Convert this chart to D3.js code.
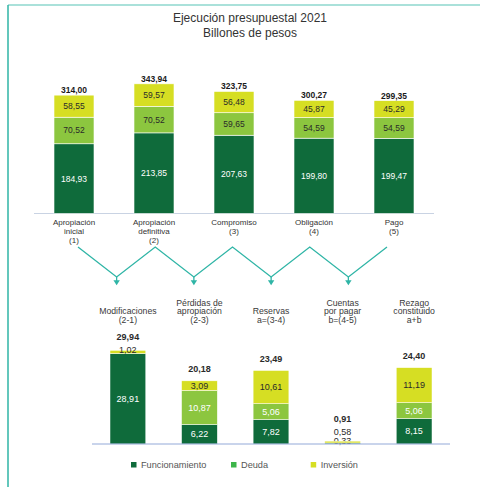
<!DOCTYPE html>
<html>
<head>
<meta charset="utf-8">
<script src="https://cdn.jsdelivr.net/npm/d3@7"></script>
<style>
  html, body { margin: 0; padding: 0; background: #fff; }
  svg { display: block; font-family: "Liberation Sans", Arial, sans-serif; }
</style>
</head>
<body>
<script>
// ejecución presupuestal 2021 (billones de pesos)
const etapas = [
	["Apropiación", "inicial", "(1)"],
	["Apropiación", "definitiva", "(2)"],
	["Compromiso", "(3)"],
	["Obligación", "(4)"],
	["Pago", "(5)"]
];
const funcionamiento = [184.93, 213.85, 207.63, 199.80, 199.47];
const deuda = [70.52, 70.52, 59.65, 54.59, 54.59];
const inversion = [58.55, 59.57, 56.48, 45.87, 45.29];
const totales = [314.00, 343.94, 323.75, 300.27, 299.35];

// diferencias entre etapas
const diferencias = [
	["Modificaciones", "(2-1)"],
	["Pérdidas de", "apropiación", "(2-3)"],
	["Reservas", "a=(3-4)"],
	["Cuentas", "por pagar", "b=(4-5)"],
	["Rezago", "constituido", "a+b"]
];
const difFuncionamiento = [28.91, 6.22, 7.82, 0.33, 8.15];
const difDeuda = [0, 10.87, 5.06, 0, 5.06];
const difInversion = [1.02, 3.09, 10.61, 0.58, 11.19];
const difTotales = [29.94, 20.18, 23.49, 0.91, 24.40];

const series = ["Funcionamiento", "Deuda", "Inversión"];

const COLORS = ["#0f6b3b", "#8cc63f", "#d6de23"];
const LEGEND_COLORS = ["#0f6b3b", "#3db54a", "#d6de23"];
const TEAL = "#2fb5a6";

const W = 480, H = 487;
const locale = d3.formatLocale({ decimal: ",", thousands: ".", grouping: [3], currency: ["$", ""] });
const fmt = locale.format(".2f");

const svg = d3.select("body").append("svg").attr("width", W).attr("height", H);

/* frame */
svg.append("line").attr("x1", 8).attr("x2", W).attr("y1", 5).attr("y2", 5)
	.attr("stroke", TEAL).attr("stroke-width", 1.2).attr("opacity", 0.8);
svg.append("line").attr("x1", 8).attr("x2", 8).attr("y1", 5).attr("y2", H)
	.attr("stroke", TEAL).attr("stroke-width", 1.5);

/* title */
const title = svg.append("text").attr("text-anchor", "middle").attr("fill", "#333").style("font-size", "12px");
title.append("tspan").attr("x", 250).attr("y", 21.5).text("Ejecución presupuestal 2021");
title.append("tspan").attr("x", 250).attr("y", 37).text("Billones de pesos");

function stackRows(f, d, i) {
	return f.map((v, k) => ({ Funcionamiento: v, "Deuda": d[k], "Inversión": i[k], idx: k }));
}

/* ---------- top chart ---------- */
const topG = svg.append("g").attr("id", "topChart");
const xTop = d3.scaleBand().domain(d3.range(etapas.length)).range([54, 414]).paddingInner(0.5).paddingOuter(0);
const yTop = d3.scaleLinear().domain([0, 350]).range([213.5, 213.5 - 350 * 0.377]);

const topStack = d3.stack().keys(series)(stackRows(funcionamiento, deuda, inversion));

topG.append("line").attr("x1", 34).attr("x2", 434).attr("y1", yTop(0)).attr("y2", yTop(0))
	.attr("stroke", "#c9d3e3").attr("stroke-width", 1);

topStack.forEach((layer, s) => {
	const g = topG.append("g");
	g.selectAll("rect").data(layer).enter().append("rect")
		.attr("x", d => xTop(d.data.idx))
		.attr("width", xTop.bandwidth())
		.attr("y", d => yTop(d[1]))
		.attr("height", d => yTop(d[0]) - yTop(d[1]))
		.attr("fill", COLORS[s])
		.attr("stroke", "#fff").attr("stroke-width", 0.6);
	g.selectAll("text").data(layer).enter().append("text")
		.attr("x", d => xTop(d.data.idx) + xTop.bandwidth() / 2)
		.attr("y", d => (yTop(d[0]) + yTop(d[1])) / 2)
		.attr("dy", "0.35em")
		.attr("text-anchor", "middle")
		.attr("fill", s === 0 ? "#fff" : "#2a2a2a")
		.style("font-size", "8.5px")
		.text(d => fmt(d[1] - d[0]));
});

topG.selectAll(".total").data(totales).enter().append("text")
	.attr("class", "total")
	.attr("x", (d, i) => xTop(i) + xTop.bandwidth() / 2)
	.attr("y", d => yTop(d) - 5)
	.attr("dy", "0.35em")
	.attr("text-anchor", "middle")
	.attr("fill", "#1a1a1a")
	.style("font-size", "8.5px").style("font-weight", "bold")
	.text(d => fmt(d));

topG.selectAll(".cat").data(etapas).enter().append("text")
	.attr("class", "cat")
	.attr("text-anchor", "middle")
	.attr("fill", "#333")
	.style("font-size", "8px")
	.each(function (lines, i) {
		d3.select(this).selectAll("tspan").data(lines).enter().append("tspan")
			.attr("x", xTop(i) + xTop.bandwidth() / 2)
			.attr("y", (l, j) => 225.3 + j * 8.6)
			.text(l => l);
	});

/* ---------- zigzag connector ---------- */
const zx = d3.scalePoint().domain(d3.range(2 * etapas.length - 1)).range([78, 387]);
const zPts = zx.domain().map(k => [zx(k), k % 2 === 0 ? 247 : 277]);
svg.append("path")
	.attr("d", d3.line()(zPts))
	.attr("fill", "none").attr("stroke", TEAL).attr("stroke-width", 1.3);
zPts.filter((p, k) => k % 2 === 1).forEach(p => {
	svg.append("line").attr("x1", p[0]).attr("x2", p[0]).attr("y1", p[1]).attr("y2", p[1] + 4)
		.attr("stroke", TEAL).attr("stroke-width", 1.3);
	svg.append("path")
		.attr("d", `M${p[0] - 3.2},${p[1] + 3.2}L${p[0] + 3.2},${p[1] + 3.2}L${p[0]},${p[1] + 8.2}Z`)
		.attr("fill", TEAL);
});

/* ---------- bottom chart ---------- */
const botG = svg.append("g").attr("id", "bottomChart");
const xBot = d3.scaleBand().domain(d3.range(diferencias.length)).range([110, 432]).paddingInner(0.5).paddingOuter(0);
const yBot = d3.scaleLinear().domain([0, 30]).range([444, 444 - 30 * 3.13]);

const botStack = d3.stack().keys(series)(stackRows(difFuncionamiento, difDeuda, difInversion));

// tiny segments get their label lifted above the bar
const tinyCount = diferencias.map(() => 0);
const labelTop = diferencias.map((d, i) => yBot(difTotales[i]));

botStack.forEach((layer, s) => {
	const g = botG.append("g");
	g.selectAll("rect").data(layer.filter(d => d[1] > d[0])).enter().append("rect")
		.attr("x", d => xBot(d.data.idx))
		.attr("width", xBot.bandwidth())
		.attr("y", d => yBot(d[1]))
		.attr("height", d => yBot(d[0]) - yBot(d[1]))
		.attr("fill", COLORS[s])
		.attr("stroke", "#fff").attr("stroke-width", 0.5);
	g.selectAll("text").data(layer.filter(d => d[1] > d[0])).enter().append("text")
		.attr("x", d => xBot(d.data.idx) + xBot.bandwidth() / 2)
		.attr("y", d => {
			const cy = (yBot(d[0]) + yBot(d[1])) / 2;
			if (yBot(d[0]) - yBot(d[1]) > 6) return cy;
			const i = d.data.idx;
			const y = cy - 2.5 - 7.5 * tinyCount[i]++;
			labelTop[i] = Math.min(labelTop[i], y);
			return y;
		})
		.attr("dy", "0.35em")
		.attr("text-anchor", "middle")
		.attr("fill", d => (s < 2 && yBot(d[0]) - yBot(d[1]) > 6) ? "#fff" : "#2a2a2a")
		.style("font-size", "9px")
		.text(d => fmt(d[1] - d[0]));
});

botG.append("line").attr("x1", 92).attr("x2", 450).attr("y1", yBot(0)).attr("y2", yBot(0))
	.attr("stroke", "#93a9d8").attr("stroke-width", 1);

botG.selectAll(".total").data(difTotales).enter().append("text")
	.attr("class", "total")
	.attr("x", (d, i) => xBot(i) + xBot.bandwidth() / 2)
	.attr("y", (d, i) => tinyCount[i] ? labelTop[i] - 13 : yBot(d) - 12)
	.attr("dy", "0.35em")
	.attr("text-anchor", "middle")
	.attr("fill", "#2a2a2a")
	.style("font-size", "9px").style("font-weight", "bold")
	.text(d => fmt(d));

botG.selectAll(".cat").data(diferencias).enter().append("text")
	.attr("class", "cat")
	.attr("text-anchor", "middle")
	.attr("fill", "#3a3a3a")
	.style("font-size", "8.7px")
	.each(function (lines, i) {
		const n = lines.length;
		d3.select(this).selectAll("tspan").data(lines).enter().append("tspan")
			.attr("x", xBot(i) + xBot.bandwidth() / 2)
			.attr("y", (l, j) => 323.3 - (n - 1 - j) * 8.9)
			.text(l => l);
	});

/* ---------- legend ---------- */
const legendX = [131, 231, 310.7];
const legend = svg.append("g").selectAll("g").data(series).enter().append("g")
	.attr("transform", (d, i) => `translate(${legendX[i]},462)`);
legend.append("rect").attr("width", 5.5).attr("height", 5.5).attr("fill", (d, i) => LEGEND_COLORS[i]);
legend.append("text").attr("x", 10).attr("y", 5.7)
	.attr("fill", "#555").style("font-size", "9.2px")
	.text(d => d);
</script>
</body>
</html>
